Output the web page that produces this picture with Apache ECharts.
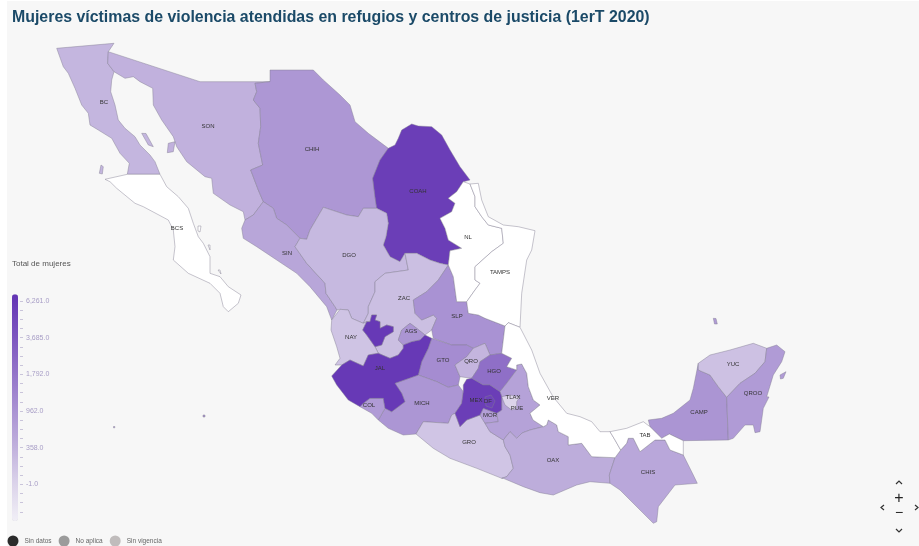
<!DOCTYPE html>
<html><head><meta charset="utf-8">
<style>html,body{margin:0;padding:0;background:#fff}#c{width:919px;height:546px}</style>
<script src="https://cdn.jsdelivr.net/npm/echarts@6/dist/echarts.min.js"></script>
</head><body><div id="c"></div>
<script>
const chartTitle = 'Mujeres víctimas de violencia atendidas en refugios y centros de justicia (1erT 2020)';
const legendTitle = 'Total de mujeres';
const stateCodes = ['BC','SON','CHIH','COAH','SIN','DGO','ZAC','NAY','SLP','AGS','GTO','QRO','HGO','MICH','COL','GRO','MOR','PUE','TLAX','OAX','CHIS','CAMP','YUC','QROO','JAL','MEX','DF'];
const stateTotals = [307,358,871,5797,575,281,217,166,987,926,1136,320,2170,902,793,153,708,654,-1,437,545,926,191,793,6261,5797,5437];
const scaleValues = [-1,358,962,1792,3685,6261];
const scaleLabels = ['-1.0','358.0','962.0','1,792.0','3,685.0','6,261.0'];
const statusLabels = ['Sin datos','No aplica','Sin vigencia'];
const statusColors = ['#2b2b2b','#9b9b9b','#c0bcbc'];
const rampColors = ['#f1eff6','#dbd3ea','#bfafdc','#a890d2','#9171c8','#7a52be','#6334b4'];

// Base map: state outlines, in map units.
const outlines = {
BC:[[[56.7,48.3],[114,43.3],[108.3,51.7],[107.7,63.3],[114,71.7],[111.7,80],[110.7,91.7],[115,105],[118.3,120],[125,128.3],[135,136.7],[140,145],[150,155],[155,161.7],[160,174.3],[127.3,174.3],[129.3,163.3],[120,153.3],[111.7,138.3],[98.3,130],[90,125],[88.3,113.3],[81.7,105],[75,88.3],[68.3,73.3],[63.3,66.7]],
 [[141.7,133.3],[146,133.5],[153.3,146.7],[148.3,145]],[[101,165],[103.3,166.7],[102.3,174],[99.3,173.3]]],
SON:[[[108.3,51.7],[200,81.7],[270,81.7],[255,83.3],[256.7,91.7],[253.3,100],[260,108.3],[260.7,126.7],[258.3,143.3],[262.7,165],[250.7,170],[258.3,190],[263.3,201.7],[253.3,215],[245,220],[243.3,211.7],[230,205],[213.3,193.3],[211.7,178.3],[205,176.7],[186.7,161.7],[176.7,146.7],[173.3,136.7],[161.7,120],[153.3,105],[152.7,88.3],[140,81.7],[133.3,76.7],[125,78.3],[114,71.7],[107.7,63.3]],
 [[168.3,143.3],[175,141.7],[173.3,151.7],[167.3,152.7]]],
CHIH:[[[270,70],[313.3,70],[323.3,80],[340,95],[350,105],[355,121.7],[368.3,133.3],[388.3,148.3],[380,160],[372.7,178.3],[375,196.7],[376.7,208.3],[363.3,208.3],[358.3,216.7],[346.7,215],[323.3,207.3],[310,230],[306.7,239.3],[300,238.3],[286.7,225],[276.7,218.3],[273.3,208.3],[263.3,201.7],[258.3,190],[250.7,170],[262.7,165],[258.3,143.3],[260.7,126.7],[260,108.3],[253.3,100],[256.7,91.7],[255,83.3],[270,81.7]]],
COAH:[[[401.7,130],[411.7,124],[418.3,126],[431.7,126.7],[441.7,135],[450,150],[460,166.7],[470,180],[463.3,181.7],[456.7,191.7],[448.3,198.3],[455,203.3],[451.7,211.7],[440,218.3],[445,228.3],[448.3,240],[461.7,248.3],[450,250.7],[448.3,265],[440,263.3],[430,260],[416.7,253.3],[405,253.3],[400,261.7],[390,256.7],[383.3,245],[386,236.7],[388.3,223.3],[386.7,213.3],[376.7,208.3],[375,196.7],[372.7,178.3],[380,160],[388.3,148.3],[395,145],[398.3,138.3]]],
SIN:[[[263.3,201.7],[273.3,208.3],[276.7,218.3],[286.7,225],[300,238.3],[295,246.7],[306.7,263.3],[325,283.3],[326,293.3],[335,306.7],[337,310],[331.7,320],[326.7,306.7],[310,286.7],[296.7,273.3],[276.7,260],[256.7,246.7],[243.3,238.3],[241.7,228.3],[245,220],[253.3,215]]],
DGO:[[[323.3,207.3],[346.7,215],[358.3,216.7],[363.3,208.3],[376.7,208.3],[386.7,213.3],[388.3,223.3],[386,236.7],[383.3,245],[390,256.7],[400,261.7],[405,253.3],[408.3,270],[385,273.3],[375,281.7],[375,291.7],[368.3,306.7],[368.3,313.3],[363.3,323.3],[351.7,318.3],[348.3,310],[340,309.3],[337,310],[335,306.7],[326,293.3],[325,283.3],[306.7,263.3],[295,246.7],[300,238.3],[306.7,239.3],[310,230]]],
ZAC:[[[405,253.3],[416.7,253.3],[430,260],[440,263.3],[448.3,265],[438.3,280],[426.7,291.7],[413.3,300],[415,313.3],[421.7,320],[433.3,315],[436.7,318.3],[431.7,330],[425,335],[416.7,328.3],[410,323.3],[401.7,330],[398.3,340],[403.3,345],[403.3,348.3],[398.3,355],[390,358.3],[378.3,353.3],[375,346.7],[381.7,345],[385,336.7],[393.3,331.7],[393.3,326.7],[386.7,325],[380,328.3],[380,321.7],[375,320],[376.7,315],[371.7,315],[370,321.7],[366.7,321.7],[363.3,323.3],[368.3,313.3],[368.3,306.7],[375,291.7],[375,281.7],[385,273.3],[408.3,270]]],
NAY:[[[340,309.3],[331.7,320],[331,330],[336.7,346.7],[340,358.3],[335,365],[341.7,365],[350,360],[363.3,366],[368.3,355],[378.3,353.3],[375,346.7],[366.7,335],[362.7,330],[366.7,321.7],[363.3,323.3],[351.7,318.3],[348.3,310]]],
SLP:[[[448.3,265],[453.3,276.7],[456.7,301.7],[466.7,301.7],[468.3,313.3],[478.3,315],[485,318.3],[505,326],[503.3,340],[501.7,353.3],[490,355],[485,343.3],[473.3,348.3],[466.7,345],[451.7,345],[433.3,338.3],[431.7,330],[436.7,318.3],[433.3,315],[421.7,320],[415,313.3],[413.3,300],[426.7,291.7],[438.3,280]]],
AGS:[[[403.3,345],[398.3,340],[401.7,330],[410,323.3],[416.7,328.3],[425,335],[420,340],[411.7,341.7]]],
GTO:[[[431.7,338.3],[451.7,345],[466.7,345],[473.3,348.3],[466.7,356.7],[455,365],[460,376.7],[458.3,385],[448.3,387.3],[436.7,381.7],[418.3,375],[421.7,361.7],[428.3,348.3]]],
QRO:[[[473.3,348.3],[485,343.3],[490,355],[480,361.7],[478.3,368.3],[471.7,378.3],[460,376.7],[455,365],[466.7,356.7]]],
HGO:[[[490,355],[501.7,353.3],[511.7,358.3],[506.7,366.7],[516.7,370],[506.7,383.3],[500,391.7],[490,385],[483.3,385],[471.7,378.3],[478.3,368.3],[480,361.7]]],
MICH:[[[418.3,375],[436.7,381.7],[448.3,387.3],[458.3,385],[463.3,391.7],[461.7,403.3],[455,413.3],[451.7,415],[448.3,423.3],[423.3,421.7],[416,434],[403.3,435],[388.3,428.3],[378.3,420],[385,408.3],[391.7,411.7],[405,401.7],[401.7,393.3],[395,383.3]]],
COL:[[[363.3,403.3],[370,398.3],[383.3,398.3],[385,408.3],[378.3,420],[371.7,413.3],[360,406.7]]],
GRO:[[[423.3,421.7],[448.3,423.3],[451.7,415],[455,413.3],[460,426.7],[466.7,420],[480,415],[485,423.3],[490,431.7],[503.3,440],[505,446.7],[510,455],[513.3,468.3],[506.7,476.7],[501.7,478.3],[476.7,468.3],[450,458.3],[433.3,448.3],[416,434]]],
MOR:[[[483.3,408.3],[496.7,413.3],[498.3,421.7],[485,423.3],[480,415]]],
PUE:[[[516.7,370],[516.7,365],[521.7,364],[526.7,373.3],[528.3,386.7],[533.3,400],[540,405],[530,413.3],[533,420],[543.3,426.7],[530,430],[522,433],[516.7,438.3],[510,431.7],[503.3,440],[490,431.7],[485,423.3],[498.3,421.7],[496.7,413.3],[501.7,410],[501.7,396.7],[500,391.7],[506.7,383.3]]],
TLAX:[[[501.7,396.7],[510,395],[520,396.7],[516.7,401.7],[516.7,408.3],[511.7,410],[505,405]]],
OAX:[[[503.3,440],[510,431.7],[516.7,438.3],[522,433],[530,430],[543.3,426.7],[546.7,425],[548.3,420],[556.7,425],[558.3,431.7],[568.3,436.7],[568.3,445],[581.7,443.3],[591.7,456.7],[615,457.7],[609.3,475],[610,483.3],[590,481.7],[576.7,485],[553.3,495],[540,492.7],[523.3,486.7],[503.3,478.3],[501.7,478.3],[506.7,476.7],[513.3,468.3],[510,455],[505,446.7]]],
CHIS:[[[615,457.7],[620.7,450],[626.7,443.3],[628.3,438.3],[633.3,438.3],[640,451.7],[655,440],[665,440],[670,450],[683.3,455],[693.3,475],[697.3,483.3],[675,485],[658.3,506.7],[656.7,521.7],[653.3,523.3],[640,510],[620,490],[610,483.3],[609.3,475]]],
CAMP:[[[698.3,363.3],[698.3,370],[710,375],[718.3,386.7],[726.7,397.3],[728.3,440],[683.3,440.7],[669.3,434],[661.7,438.3],[650,426.7],[648.3,420],[661.7,418.3],[673.3,413.3],[690,400],[693.3,388.3]]],
YUC:[[[698.3,363.3],[710,355],[730,350],[753.3,343.3],[766.7,348.3],[765,361.7],[755,373.3],[740,383.3],[726.7,397.3],[718.3,386.7],[710,375],[698.3,370]]],
QROO:[[[766.7,348.3],[776.7,345],[785,351.7],[781.7,361.7],[773.3,375],[766.7,396.7],[769,397],[763.3,408.3],[760,431.7],[755,432.7],[753.3,425],[745,425],[733.3,438.3],[728.3,440],[726.7,397.3],[740,383.3],[755,373.3],[765,361.7]],
 [[780,375],[786,371.7],[783.3,378.3],[780.5,379]],[[713.3,318.3],[716,318.5],[717.3,324],[714.5,324]]],
JAL:[[[378.3,353.3],[390,358.3],[398.3,355],[403.3,348.3],[403.3,345],[411.7,341.7],[420,340],[425,335],[431.7,338.3],[428.3,348.3],[421.7,361.7],[418.3,375],[395,383.3],[401.7,393.3],[405,401.7],[391.7,411.7],[385,408.3],[383.3,398.3],[370,398.3],[363.3,403.3],[360,406.7],[348.3,400],[336.7,385],[331.7,376],[341.7,365],[350,360],[363.3,366],[368.3,355]],
 [[371.7,315],[376.7,315],[375,320],[380,321.7],[380,328.3],[386.7,325],[393.3,326.7],[393.3,331.7],[385,336.7],[381.7,345],[375,346.7],[366.7,335],[362.7,330],[366.7,321.7],[370,321.7]]],
MEX:[[[466.7,379.3],[471.7,378.3],[483.3,385],[490,385],[500,391.7],[501.7,396.7],[501.7,410],[496.7,413.3],[483.3,408.3],[480,415],[466.7,420],[460,426.7],[455,413.3],[461.7,403.3],[463.3,391.7],[463.3,385]]],
DF:[[[485,397],[491,395],[495,401],[492,408],[486,406]]],
BCS:[[[160,174.3],[166.7,186.7],[178.3,196.7],[188.3,208.3],[193.3,223.3],[198.3,236.7],[203.3,243.3],[210,256.7],[210,273.3],[220,276.7],[228.3,286.7],[241,295],[238.3,303.3],[228.3,311.7],[223.3,306.7],[220,293.3],[210,283.3],[188.3,273.3],[173.3,260],[175,246.7],[173.3,230],[168.3,220],[143.3,206.7],[135,203.3],[116.7,188.3],[110,181.7],[105,179.3],[127.3,174.3]],
 [[198,226],[201,226],[200,232],[198,231]],[[208,245],[210,245],[210,250]],[[218,270],[220,270],[221,274]]],
NL:[[[463.3,181.7],[470,184],[475,196.7],[475,206.7],[481.7,216.7],[488.3,225],[501.7,228.3],[503.3,243.3],[491.7,251.7],[475,266.7],[475,280],[480,283.3],[475,290],[466.7,301.7],[456.7,301.7],[453.3,276.7],[448.3,265],[450,250.7],[461.7,248.3],[448.3,240],[445,228.3],[440,218.3],[451.7,211.7],[455,203.3],[448.3,198.3],[456.7,191.7]]],
TAMPS:[[[470,184],[478.3,183.3],[481.7,200],[488.3,216.7],[503.3,225],[518.3,226.7],[535,230.7],[531.7,250],[526.7,260],[521.7,293.3],[520,327.3],[508.3,322.7],[505,326],[485,318.3],[478.3,315],[468.3,313.3],[466.7,301.7],[475,290],[480,283.3],[475,280],[475,266.7],[491.7,251.7],[503.3,243.3],[501.7,228.3],[488.3,225],[481.7,216.7],[475,206.7],[475,196.7]]],
VER:[[[520,327.3],[531.7,350],[540,373.3],[553,396.7],[566.7,413.3],[580,416.7],[591.7,421.7],[600,431.7],[610,431.7],[615,440],[620.7,450],[615,457.7],[591.7,456.7],[581.7,443.3],[568.3,445],[568.3,436.7],[558.3,431.7],[556.7,425],[548.3,420],[546.7,425],[543.3,426.7],[533,420],[530,413.3],[540,405],[533.3,400],[528.3,386.7],[526.7,373.3],[521.7,364],[516.7,365],[516.7,370],[506.7,366.7],[511.7,358.3],[501.7,353.3],[503.3,340],[505,326],[508.3,322.7]]],
TAB:[[[610,431.7],[626.7,428.3],[643.3,421.7],[650,426.7],[661.7,438.3],[669.3,434],[683.3,440.7],[683.3,455],[670,450],[665,440],[655,440],[640,451.7],[633.3,438.3],[628.3,438.3],[626.7,443.3],[620.7,450],[615,440]]]
};
// Offshore specks on the base map.
outlines.COL.push([[203,415],[205,415],[205,417],[203,417]],[[113.5,426.5],[114.8,426.5],[114.8,427.8],[113.5,427.8]]);

// Where each state's short name sits on the base map.
const labelAnchors = {BC:[104,102],SON:[208,126],CHIH:[312,149],COAH:[418,191],NL:[468,237],TAMPS:[500,272],BCS:[177,228],SIN:[287,253],DGO:[349,255],ZAC:[404,298],SLP:[457,316],NAY:[351,337],AGS:[411,331],GTO:[443,360],QRO:[471,361],HGO:[494,371],JAL:[380,368],MICH:[422,403],COL:[369,405],MEX:[476,400],DF:[488,401],MOR:[490,415],TLAX:[513,397],PUE:[517,408],VER:[553,398],GRO:[469,442],OAX:[553,460],CHIS:[648,472],TAB:[645,435],CAMP:[699,412],YUC:[733,364],QROO:[753,393]};

const axisMin = -1, axisMax = 5.18;
const tickPositions = [-0.75,-0.5,-0.25,0,0.25,0.5,0.75,1,1.25,1.5,1.75,2,2.25,2.5,2.75,3,3.25,3.5,3.75,4,4.25,4.5,4.75,5];
const labelPositions = [0,1,2,3,4,5];

// The legend scale is quantile-spaced: a total maps onto its ramp position piecewise between the scale values.
function rampPosition(total){
  for(let i=0;i<scaleValues.length-1;i++){
    if(total<=scaleValues[i+1]) return i+(total-scaleValues[i])/(scaleValues[i+1]-scaleValues[i]);
  }
  return scaleValues.length-1;
}

const geo = {type:'FeatureCollection',features:Object.keys(outlines).map(code=>({
  type:'Feature',
  properties:{name:code,cp:labelAnchors[code]},
  geometry:{type:'MultiPolygon',coordinates:outlines[code].map(r=>[r.concat([r[0]])])}
}))};
echarts.registerMap('mx',geo);

const chart = echarts.init(document.getElementById('c'),null,{renderer:'canvas'});
const font = '"Liberation Sans",Arial,sans-serif';
const identity = p=>[p[0],p[1]];
const controlStroke = {stroke:'#333',lineWidth:1.2,fill:null};
const chevron = pts=>({type:'polyline',silent:true,shape:{points:pts},style:controlStroke});
chart.setOption({
  animation:false,
  textStyle:{fontFamily:font},
  title:[
    {text:chartTitle,left:12,top:10,padding:0,textStyle:{fontSize:15.9,fontWeight:'bold',color:'#1b4a68',fontFamily:font}},
    {text:legendTitle,left:12,top:260,padding:0,textStyle:{fontSize:8,fontWeight:'normal',color:'#555',fontFamily:font}}
  ],
  grid:{left:20,top:294.3,width:1,height:226.7,show:false},
  xAxis:{type:'value',show:false,min:0,max:1},
  yAxis:{type:'value',position:'right',min:axisMin,max:axisMax,
    axisLine:{show:false},splitLine:{show:false},
    axisTick:{show:true,length:3,lineStyle:{color:'#c9c4da',width:1},customValues:tickPositions},
    axisLabel:{show:true,margin:5,fontSize:7,color:'#a79dc6',fontFamily:font,customValues:labelPositions,
      formatter:v=>scaleLabels[Math.round(v)]}},
  legend:{left:7.5,top:535.5,padding:0,itemWidth:11,itemHeight:11,itemGap:7,icon:'circle',selectedMode:false,
    textStyle:{fontSize:6.5,color:'#666',fontFamily:font,padding:[0,0,0,1]},data:statusLabels},
  visualMap:{type:'continuous',show:true,seriesIndex:0,left:12,top:294.3,padding:0,itemWidth:6,itemHeight:226.7,
    min:axisMin,max:axisMax,calculable:false,realtime:false,hoverLink:false,text:null,showLabel:false,
    inRange:{color:rampColors},textStyle:{color:'transparent',fontSize:1}},
  graphic:[
    {type:'rect',silent:true,z:-10,shape:{x:7,y:1,width:912,height:545},style:{fill:'#f7f7f7'}},
    chevron([[896,484],[899,481],[902,484]]),
    chevron([[896,529],[899,532],[902,529]]),
    chevron([[884,505],[881,507.5],[884,510]]),
    chevron([[915,505],[918,507.5],[915,510]]),
    {type:'text',silent:true,style:{text:'+',x:899,y:499,fill:'#222',font:'16px '+font,textAlign:'center',textVerticalAlign:'middle'}},
    {type:'text',silent:true,style:{text:'−',x:899,y:513,fill:'#222',font:'14px '+font,textAlign:'center',textVerticalAlign:'middle'}}
  ],
  series:[
    {type:'map',map:'mx',projection:{project:identity,unproject:identity},showLegendSymbol:false,
     boundingCoords:[[0,0],[919,546]],left:0,top:0,width:919,height:546,roam:false,silent:true,selectedMode:false,
     itemStyle:{areaColor:'#ffffff',borderColor:'rgba(130,126,145,0.75)',borderWidth:0.6},
     label:{show:true,fontSize:6,color:'#333',fontFamily:font},
     emphasis:{disabled:true},
     data:stateCodes.map((c,i)=>({name:c,value:rampPosition(stateTotals[i]),total:stateTotals[i]}))}
  ].concat(statusLabels.map((n,i)=>({type:'scatter',name:n,data:[],itemStyle:{color:statusColors[i],opacity:1}})))
});
</script></body></html>
